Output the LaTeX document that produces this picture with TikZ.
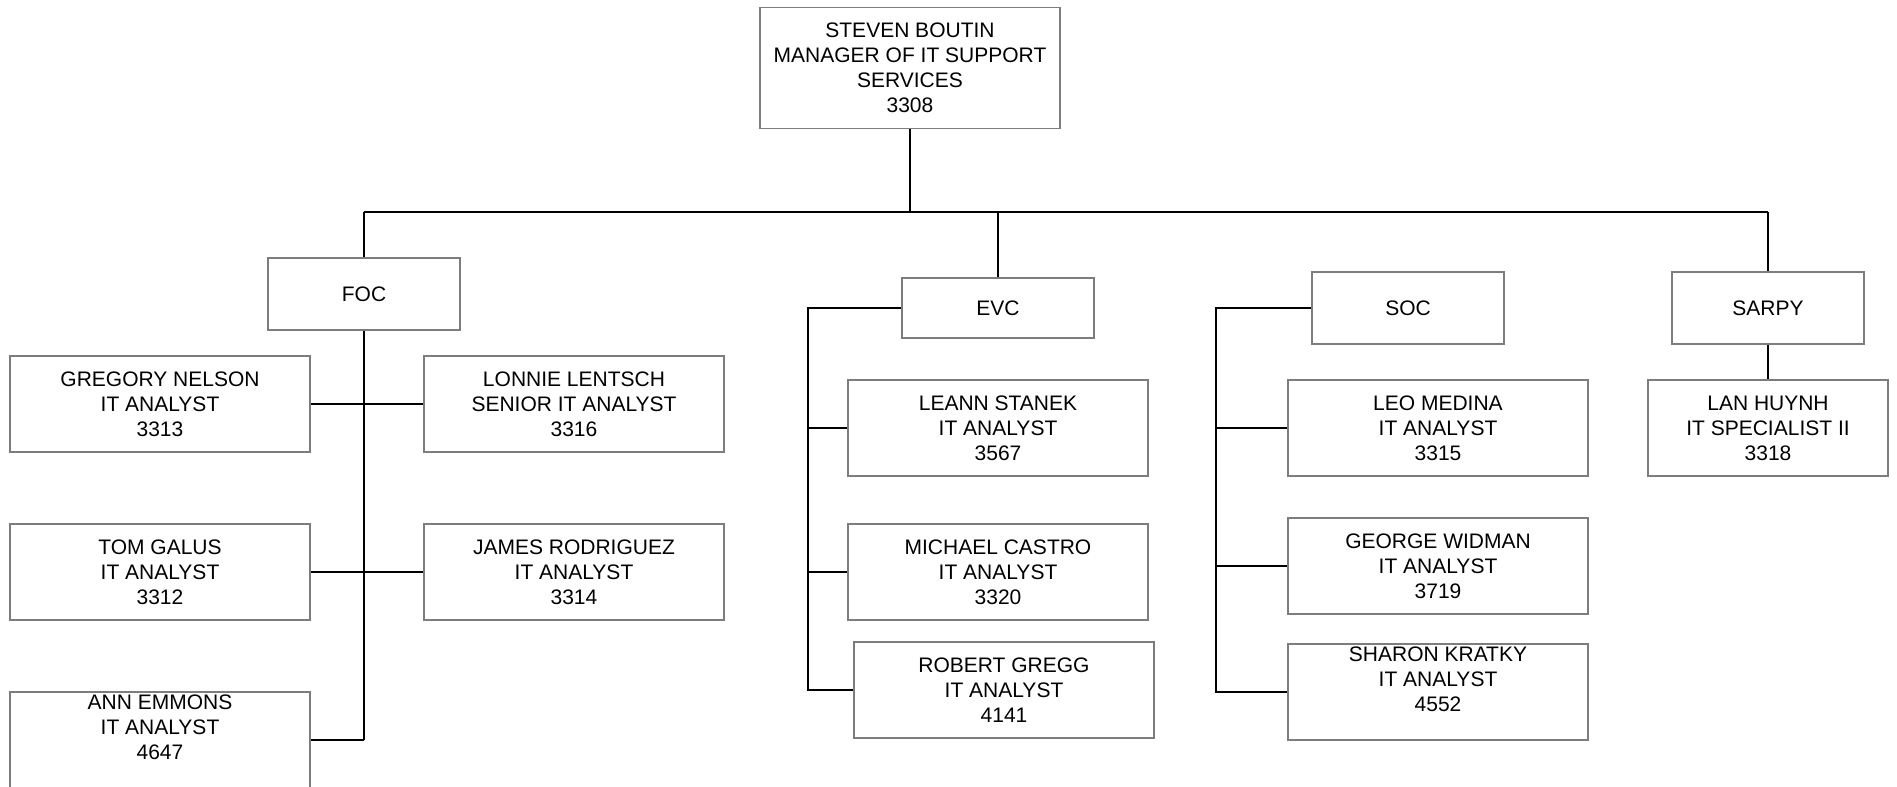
\documentclass[tikz,border=0pt]{standalone}
\usepackage{fontspec}
\setmainfont{Liberation Sans}
\usepackage{tikz}
\usetikzlibrary{positioning}
\usetikzlibrary{calc}
\definecolor{boxgray}{RGB}{125,125,125}

\begin{document}
\begin{tikzpicture}[x=0.5pt,y=-0.5pt]

\tikzstyle{person}=[rectangle,minimum width=150pt,minimum height=48pt, inner sep=0pt, draw=boxgray, line width=0.8pt, align=center, font=\fontsize{10.5}{12.5}\selectfont]
\tikzstyle{boss}=[person,minimum height=60.5pt]
\tikzstyle{unit}=[person,minimum width=96pt,minimum height=36pt]
\tikzstyle{link}=[draw, black, line width=1pt]
\tikzstyle{blank} = [coordinate]

\useasboundingbox (0,0) rectangle (1897,787);

\node[boss] (boutin) at (910,68) {STEVEN BOUTIN\\MANAGER OF IT SUPPORT\\SERVICES\\3308};

\node[unit] (foc) at (364,294) {FOC};
\node[unit,minimum height=30pt] (evc) at (998,308) {EVC};
\node[unit] (soc) at (1408,308) {SOC};
\node[unit] (sarpy) at (1768,308) {SARPY};

\node[person] (gregory) at (160,404) {GREGORY NELSON\\IT ANALYST\\3313};
\node[person] (lonnie) at (574,404) {LONNIE LENTSCH\\SENIOR IT ANALYST\\3316};
\node[person] (tom) at (160,572) {TOM GALUS\\IT ANALYST\\3312};
\node[person] (james) at (574,572) {JAMES RODRIGUEZ\\IT ANALYST\\3314};
\node[person] (ann) at (160,740) {ANN EMMONS\\IT ANALYST\\4647\\~};

\node[person] (leann) at (998,428) {LEANN STANEK\\IT ANALYST\\3567};
\node[person] (michael) at (998,572) {MICHAEL CASTRO\\IT ANALYST\\3320};
\node[person] (robert) at (1004,690) {ROBERT GREGG\\IT ANALYST\\4141};

\node[person] (leo) at (1438,428) {LEO MEDINA\\IT ANALYST\\3315};
\node[person] (george) at (1438,566) {GEORGE WIDMAN\\IT ANALYST\\3719};
\node[person] (sharon) at (1438,692) {SHARON KRATKY\\IT ANALYST\\4552\\~};

\node[person,minimum width=120pt] (lan) at (1768,428) {LAN HUYNH\\IT SPECIALIST II\\3318};

\node[blank] (busL) at (364,212) {};
\node[blank] (busR) at (1768,212) {};
\node[blank] (evcbus) at (808,308) {};
\node[blank] (socbus) at (1216,308) {};

\draw[link](boutin) -- (boutin |- busL);
\draw[link](busL) -- (busR);
\draw[link](busL) -- (foc);
\draw[link](evc |- busL) -- (evc);
\draw[link](busR) -- (sarpy);

\draw[link](foc) -- (foc |- ann);
\draw[link](gregory) -- (lonnie);
\draw[link](tom) -- (james);
\draw[link](ann) -- (ann -| foc);

\draw[link](evc) -- (evcbus) |- (robert);
\draw[link](evcbus |- leann) -- (leann);
\draw[link](evcbus |- michael) -- (michael);

\draw[link](soc) -- (socbus) |- (sharon);
\draw[link](socbus |- leo) -- (leo);
\draw[link](socbus |- george) -- (george);

\draw[link](sarpy) -- (lan);

\end{tikzpicture}
\end{document}
